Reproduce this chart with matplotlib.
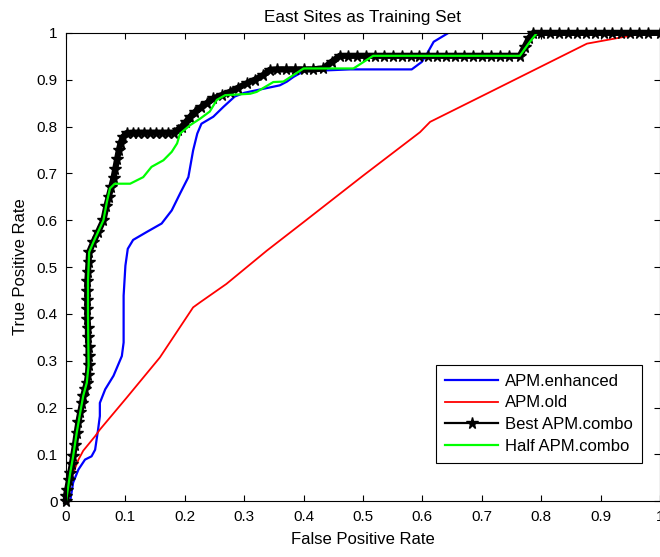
import numpy as np
import matplotlib
matplotlib.use('Agg')
import matplotlib.pyplot as plt

plt.rcParams['font.family'] = ['Liberation Sans', 'DejaVu Sans']

# ROC curves
enh_fpr = [0, 0.007, 0.012, 0.021, 0.032, 0.043, 0.049, 0.054, 0.057, 0.057, 0.066, 0.08,
           0.094, 0.097, 0.097, 0.1, 0.104, 0.113, 0.136, 0.161, 0.178, 0.192, 0.206, 0.214,
           0.221, 0.228, 0.248, 0.265, 0.284, 0.3, 0.33, 0.36, 0.372, 0.383, 0.4, 0.478,
           0.582, 0.599, 0.608, 0.619, 0.644, 1.0]
enh_tpr = [0, 0, 0.04, 0.068, 0.089, 0.096, 0.11, 0.153, 0.182, 0.21, 0.239, 0.268,
           0.31, 0.339, 0.439, 0.503, 0.539, 0.558, 0.575, 0.593, 0.621, 0.657, 0.692, 0.749,
           0.785, 0.806, 0.821, 0.842, 0.864, 0.872, 0.88, 0.888, 0.896, 0.906, 0.918, 0.922,
           0.922, 0.938, 0.956, 0.981, 1.0, 1.0]

old_fpr = [0, 0.012, 0.021, 0.029, 0.049, 0.057, 0.102, 0.158, 0.214, 0.226, 0.27, 0.338,
           0.4, 0.5, 0.596, 0.613, 0.708, 0.877, 0.955, 1.0]
old_tpr = [0, 0.06, 0.089, 0.108, 0.139, 0.153, 0.221, 0.307, 0.414, 0.425, 0.464, 0.535,
           0.596, 0.695, 0.788, 0.81, 0.87, 0.977, 0.995, 1.0]

best_fpr = [0, 0, 0.002, 0.005, 0.007, 0.01, 0.012, 0.015, 0.018, 0.021, 0.024, 0.027,
            0.029, 0.032, 0.035, 0.037, 0.038, 0.038, 0.038, 0.037, 0.037, 0.036, 0.036,
            0.036, 0.036, 0.036, 0.037, 0.038, 0.039, 0.046, 0.054, 0.063, 0.068, 0.072,
            0.076, 0.08, 0.083, 0.086, 0.089, 0.092, 0.096, 0.102, 0.112, 0.122, 0.132,
            0.142, 0.152, 0.162, 0.172, 0.181, 0.188, 0.195, 0.202, 0.209, 0.218, 0.228,
            0.238, 0.248, 0.262, 0.276, 0.29, 0.304, 0.318, 0.332, 0.343, 0.355, 0.37,
            0.385, 0.4, 0.415, 0.433, 0.447, 0.461, 0.475, 0.49, 0.505, 0.52, 0.535, 0.55,
            0.565, 0.58, 0.595, 0.61, 0.625, 0.64, 0.655, 0.67, 0.685, 0.7, 0.715, 0.73,
            0.745, 0.764, 0.772, 0.78, 0.787, 0.8, 0.815, 0.83, 0.845, 0.86, 0.875, 0.89,
            0.905, 0.92, 0.935, 0.95, 0.965, 0.98, 1.0]
best_tpr = [0, 0.012, 0.025, 0.045, 0.06, 0.08, 0.096, 0.12, 0.146, 0.17, 0.19, 0.21,
            0.225, 0.24, 0.253, 0.27, 0.29, 0.31, 0.33, 0.35, 0.37, 0.39, 0.41,
            0.43, 0.45, 0.47, 0.49, 0.51, 0.532, 0.553, 0.575, 0.6, 0.63, 0.65,
            0.67, 0.69, 0.71, 0.73, 0.75, 0.765, 0.778, 0.786, 0.787, 0.787, 0.787,
            0.787, 0.787, 0.787, 0.787, 0.787, 0.793, 0.8, 0.81, 0.821, 0.832, 0.842,
            0.851, 0.86, 0.867, 0.874, 0.883, 0.892, 0.9, 0.91, 0.921, 0.922, 0.922,
            0.922, 0.922, 0.922, 0.924, 0.938, 0.951, 0.951, 0.951, 0.951, 0.951, 0.951, 0.951,
            0.951, 0.951, 0.951, 0.951, 0.951, 0.951, 0.951, 0.951, 0.951, 0.951, 0.951, 0.951,
            0.951, 0.951, 0.97, 0.99, 1.0, 1.0, 1.0, 1.0, 1.0, 1.0, 1.0, 1.0,
            1.0, 1.0, 1.0, 1.0, 1.0, 1.0, 1.0]

half_fpr = [0, 0.003, 0.007, 0.012, 0.018, 0.024, 0.029, 0.035, 0.038, 0.037, 0.037, 0.039,
            0.046, 0.054, 0.063, 0.069, 0.074, 0.082, 0.108, 0.13, 0.144, 0.164, 0.178,
            0.187, 0.192, 0.209, 0.226, 0.242, 0.254, 0.268, 0.31, 0.321, 0.349, 0.366,
            0.4, 0.484, 0.517, 0.764, 0.781, 0.793, 1.0]
half_tpr = [0, 0.025, 0.06, 0.096, 0.146, 0.19, 0.225, 0.253, 0.29, 0.4, 0.47, 0.532,
            0.553, 0.575, 0.6, 0.64, 0.668, 0.678, 0.678, 0.692, 0.714, 0.728, 0.746,
            0.764, 0.785, 0.803, 0.817, 0.832, 0.857, 0.867, 0.87, 0.874, 0.895, 0.896,
            0.924, 0.924, 0.951, 0.951, 0.981, 1.0, 1.0]

ticks = [0, 0.1, 0.2, 0.3, 0.4, 0.5, 0.6, 0.7, 0.8, 0.9, 1]
tick_labels = ['0', '0.1', '0.2', '0.3', '0.4', '0.5', '0.6', '0.7', '0.8', '0.9', '1']

fig = plt.figure(figsize=(6.6, 5.57), dpi=100)
ax = fig.add_axes([0.1, 0.1, 0.9, 0.841])

ax.plot(enh_fpr, enh_tpr, color='#0000ff', lw=1.6, label='APM.enhanced')
ax.plot(old_fpr, old_tpr, color='#ff0000', lw=1.3, label='APM.old')
# thick underlay so the starred curve reads as a solid band
ax.plot(best_fpr, best_tpr, color='black', lw=4.5, clip_on=False, zorder=3)
ax.plot(best_fpr, best_tpr, color='black', lw=1.6, marker='*', ms=8.5,
        clip_on=False, zorder=3, label='Best APM.combo')
ax.plot(half_fpr, half_tpr, color='#00ff00', lw=1.6, zorder=4, label='Half APM.combo')

ax.set_xlim(0, 1)
ax.set_ylim(0, 1)
ax.set_xticks(ticks)
ax.set_xticklabels(tick_labels)
ax.set_yticks(ticks)
ax.set_yticklabels(tick_labels)
ax.tick_params(direction='in', length=4, width=0.8, top=True, right=True,
               labelsize=11, pad=6)
for s in ax.spines.values():
    s.set_linewidth(0.8)
    s.set_zorder(5)

ax.set_title('East Sites as Training Set', fontsize=12.3, pad=8)
ax.set_xlabel('False Positive Rate', fontsize=12, labelpad=6)
ax.set_ylabel('True Positive Rate', fontsize=12, labelpad=6)

leg = ax.legend(loc='lower right', bbox_to_anchor=(0.973, 0.169),
                bbox_transform=fig.transFigure, borderaxespad=0, fontsize=12,
                fancybox=False, framealpha=1, edgecolor='black', handlelength=3.2,
                labelspacing=0.4, borderpad=0.55, handletextpad=0.4)
leg.get_frame().set_linewidth(0.8)
leg.set_zorder(6)

fig.savefig('out.png', dpi=100)
